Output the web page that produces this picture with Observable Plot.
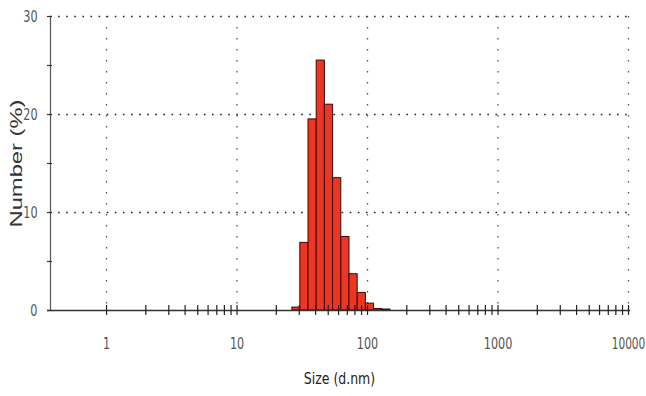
<!DOCTYPE html>
<html>
<head>
<meta charset="utf-8">
<script src="https://cdn.jsdelivr.net/npm/d3@7"></script>
<script src="https://cdn.jsdelivr.net/npm/@observablehq/plot@0.6"></script>
<style>
  html, body { margin: 0; padding: 0; background: #fff; }
  #chart svg { display: block; }
</style>
</head>
<body>
<div id="chart"></div>
<script>
// Size bins (d.nm), lower and upper edges, and Number (%) per bin
const sizeLo = [26.56, 30.55, 35.30, 40.79, 47.13, 54.47, 62.95, 72.74, 84.06, 97.16, 112.3, 129.8];
const sizeHi = [30.55, 35.30, 40.79, 47.13, 54.47, 62.95, 72.74, 84.06, 97.16, 112.3, 129.8, 150.0];
const numberPct = [0.3, 6.9, 19.5, 25.5, 21.0, 13.5, 7.5, 3.7, 1.8, 0.7, 0.15, 0.1];

// Axis ticks
const xMajor = [1, 10, 100, 1000, 10000];
const xMajorLabels = ["1", "10", "100", "1000", "10000"];
const xMinorMult = [2, 3, 4, 5, 6, 7, 8, 9];
const xDecades = [1, 10, 100, 1000];
const yTicks = [0, 5, 10, 15, 20, 25, 30];
const yLabeled = [0, 10, 20, 30];
const yGrid = [10, 20, 30];

const bins = sizeLo.map((lo, i) => ({lo, hi: sizeHi[i], v: numberPct[i]}));
const xDomain = [0.372, 10000];
const xAll = xMajor.concat(xDecades.flatMap(d => xMinorMult.map(m => d * m)));

const chart = Plot.plot({
  width: 646,
  height: 396,
  marginLeft: 50,
  marginRight: 18,
  marginTop: 16,
  marginBottom: 86,
  style: {background: "#fff", fontFamily: "'DejaVu Sans', sans-serif"},
  x: {type: "log", domain: xDomain},
  y: {domain: [0, 30]},
  marks: [
    Plot.gridY({ticks: yGrid, stroke: "#222", strokeOpacity: 1, strokeWidth: 1.6, strokeDasharray: "1.6,6.5"}),
    Plot.gridX({ticks: xMajor, stroke: "#555", strokeOpacity: 1, strokeWidth: 1.3, strokeDasharray: "1.5,9.5"}),
    Plot.rectY(bins, {x1: "lo", x2: "hi", y: "v", fill: "#ec3522", stroke: "#3a0a06", strokeWidth: 1}),
    Plot.ruleY([0], {stroke: "#333", strokeWidth: 1.6, insetLeft: -3, insetRight: -2}),
    Plot.ruleX([xDomain[0]], {stroke: "#555", strokeWidth: 1.2}),
    Plot.ruleX(xAll, {x: d => d, y1: 0, y2: 0, insetTop: -5, insetBottom: -5, stroke: "#222", strokeWidth: 1.2}),
    Plot.ruleY(yTicks, {y: d => d, x1: xDomain[0], x2: xDomain[0], insetLeft: -3, insetRight: -2, stroke: "#333", strokeWidth: 1.2}),
    Plot.axisX({ticks: xMajor, tickFormat: (d) => xMajorLabels[xMajor.indexOf(d)], tickSize: 0, tickPadding: 27, fontSize: 16, fill: "#555", label: null}),
    Plot.axisY({ticks: yLabeled, tickSize: 0, tickPadding: 13, fontSize: 16, fill: "#555", label: null}),
    Plot.text(["Size (d.nm)"], {frameAnchor: "bottom", dy: 73, fontSize: 16, fill: "#222"}),
    Plot.text(["Number (%)"], {frameAnchor: "left", textAnchor: "middle", dx: -34, rotate: -90, fontSize: 17, fill: "#333", fontFamily: "'Liberation Sans', Arial, sans-serif"})
  ]
});
document.getElementById("chart").appendChild(chart);
// Narrow the glyphs horizontally to mimic the condensed instrument font
chart.querySelectorAll("text").forEach(t => {
  const s = t.textContent;
  if (!s) return;
  const len = t.getComputedTextLength();
  let target;
  if (s === "Number (%)") target = 128;
  else if (s === "Size (d.nm)") target = len * 0.78;
  else if (s === "10000") target = len * 0.66;
  else target = len * 0.7;
  t.setAttribute("textLength", target);
  t.setAttribute("lengthAdjust", "spacingAndGlyphs");
});
</script>
</body>
</html>
